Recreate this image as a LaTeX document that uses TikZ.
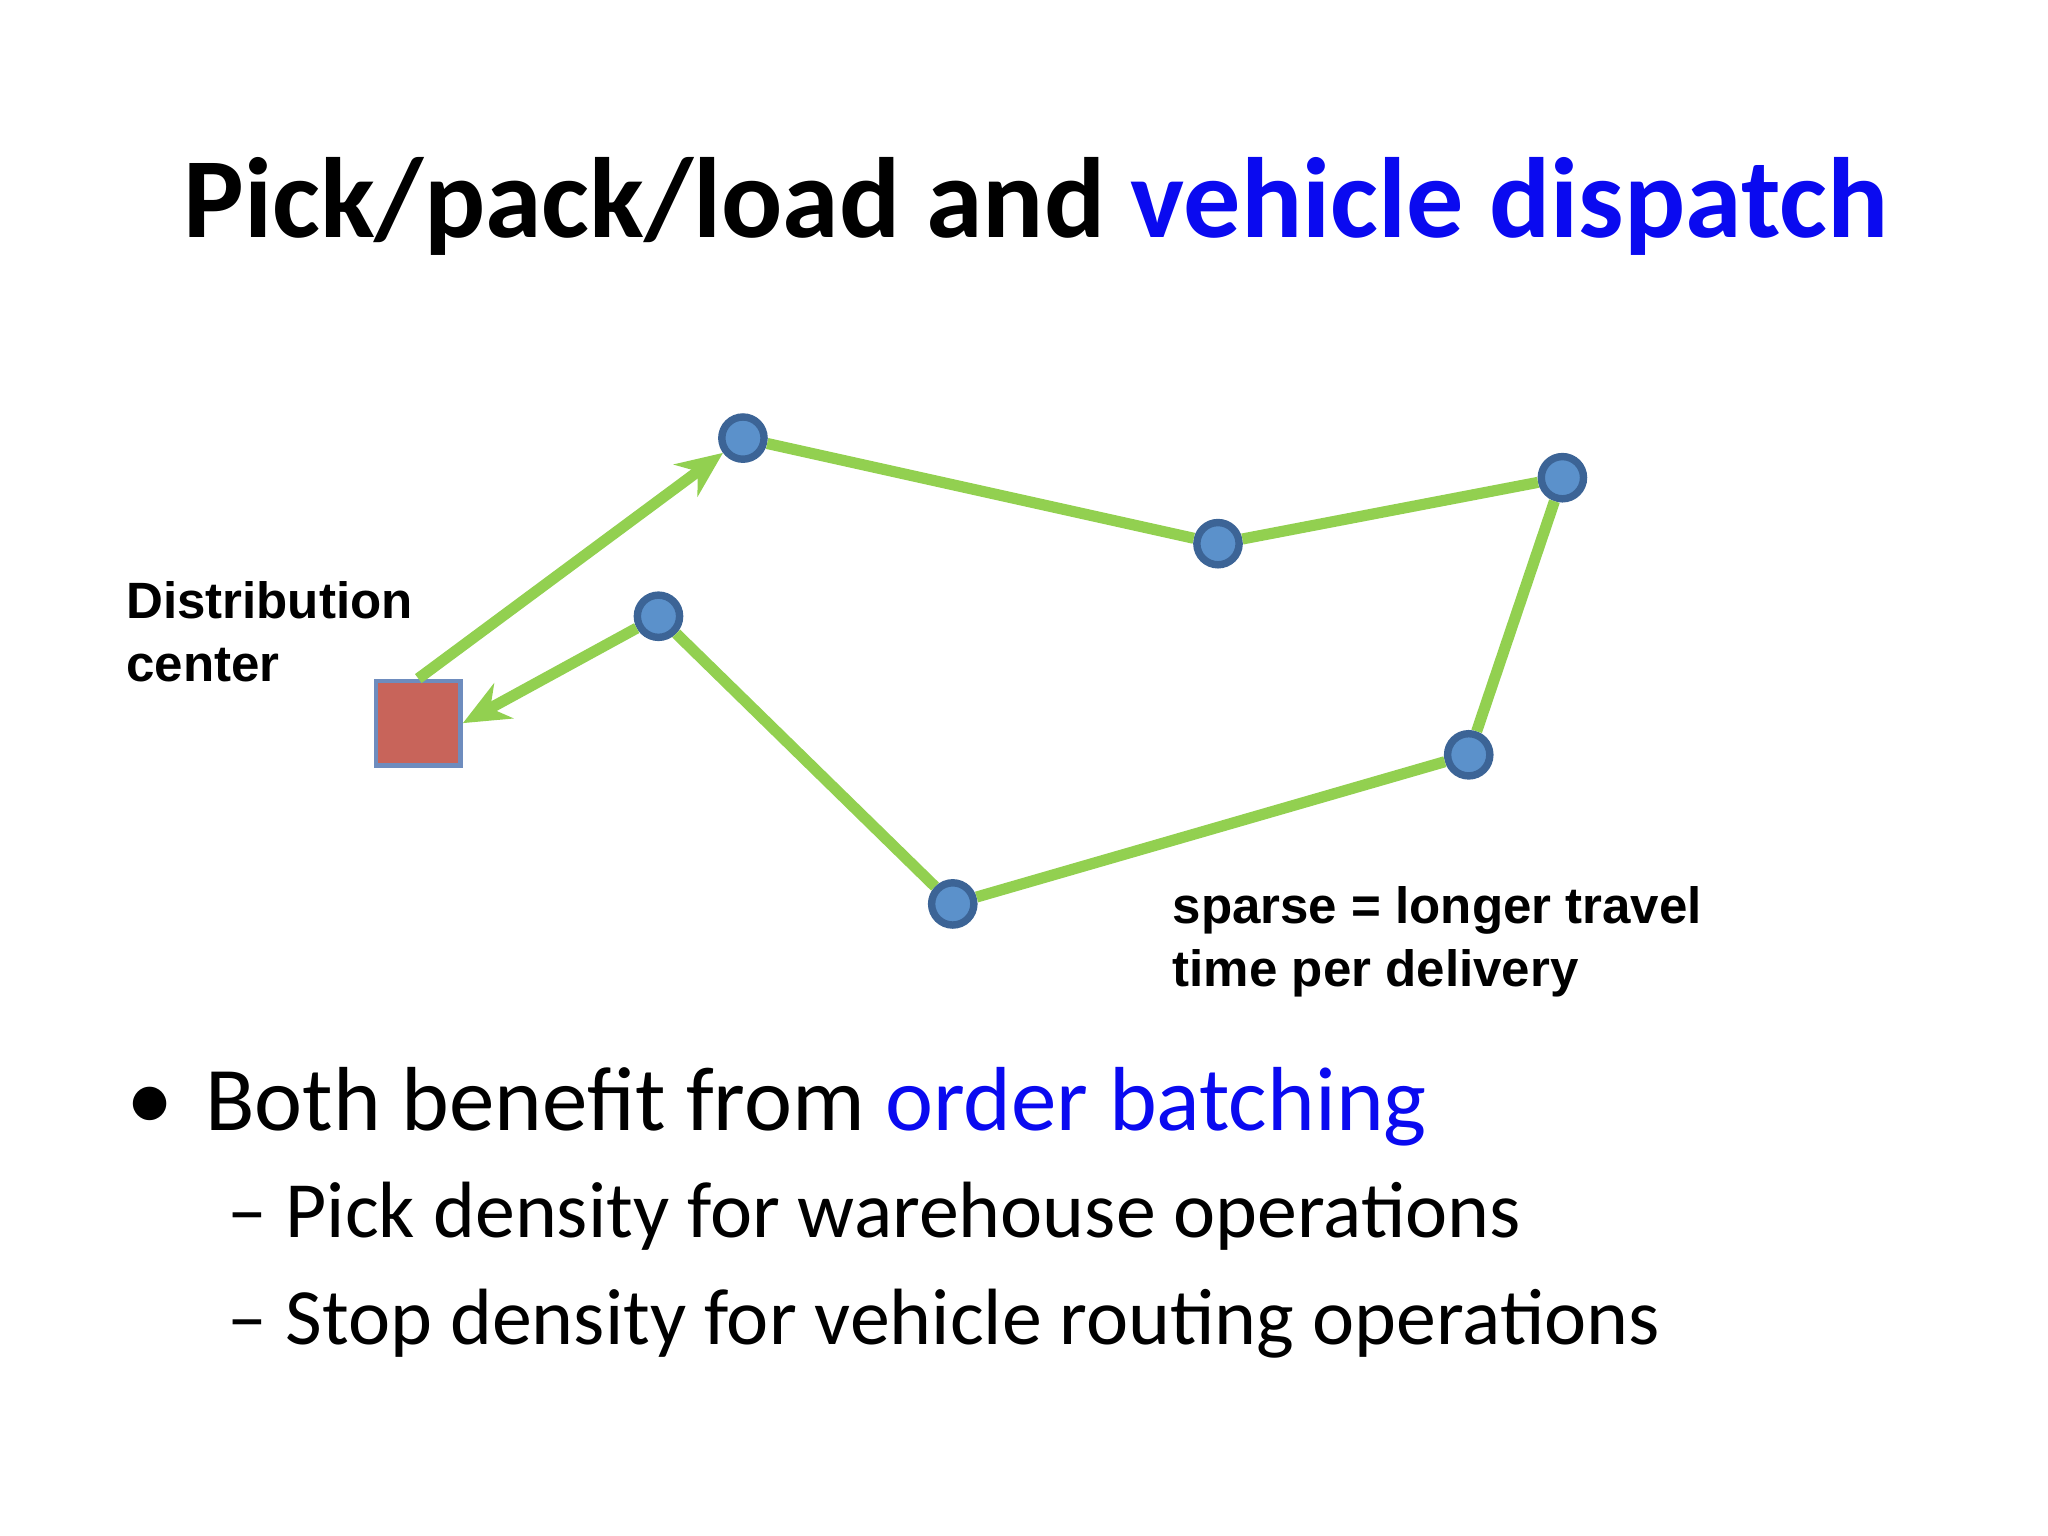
\documentclass[tikz,border=0pt]{standalone}
\usepackage{fontspec}
\setmainfont{Carlito}
\newfontfamily\arialb{Liberation Sans}[BoldFont={Liberation Sans Bold}]
\usetikzlibrary{arrows.meta}
\definecolor{route}{RGB}{146,208,80}
\definecolor{stopfill}{RGB}{91,145,203}
\definecolor{stopline}{RGB}{60,100,150}
\definecolor{dcfill}{RGB}{200,100,90}
\definecolor{dcline}{RGB}{110,140,190}
\definecolor{hl}{RGB}{10,10,240}
\begin{document}
\begin{tikzpicture}[x=0.01cm,y=-0.01cm,
  stop/.style={circle,draw=stopline,line width=1.6pt,fill=stopfill,minimum size=0.32cm,inner sep=0},
  leg/.style={draw=route,line width=2.4pt},
  arr/.style={leg,-{Stealth[length=0.35cm,width=0.3cm]}},
  lbl/.style={font=\arialb\bfseries\fontsize{11}{13.6}\selectfont,align=left,anchor=north west,inner sep=0}]
\useasboundingbox (0,0) rectangle (1552,1164);
\node[anchor=base,inner sep=0] (title) at (785,180) {\fontsize{24.6}{30}\selectfont\bfseries Pick/pack/load and \textcolor{hl}{vehicle dispatch}};
\node[draw=dcline,line width=1pt,fill=dcfill,minimum size=0.64cm,inner sep=0] (dc) at (317,548) {};
\node[stop] (a) at (563,332) {};
\node[stop] (b) at (923,412) {};
\node[stop] (c) at (1184,362) {};
\node[stop] (d) at (1113,572) {};
\node[stop] (e) at (722,685) {};
\node[stop] (f) at (499,467) {};
\draw[arr] (dc.north) -- (a);
\draw[leg] (a) -- (b) -- (c) -- (d) -- (e) -- (f);
\draw[arr] (f) -- (dc.east);
\node[lbl] (dlab) at (95,440) {Distribution\\center};
\node[lbl] (slab) at (888,671) {sparse = longer travel\\time per delivery};
\node[anchor=base west,inner sep=0,font=\fontsize{20.4}{24}\selectfont] (bul) at (95,857) {\textbullet};
\node[anchor=base west,inner sep=0,font=\fontsize{19.6}{24}\selectfont] (bt) at (155,857) {Both benefit from \textcolor{hl}{order batching}};
\node[anchor=base west,inner sep=0,font=\fontsize{17.2}{22}\selectfont] (s1) at (172,938) {– Pick density for warehouse operations};
\node[anchor=base west,inner sep=0,font=\fontsize{17.2}{22}\selectfont] (s2) at (172,1019) {– Stop density for vehicle routing operations};
\end{tikzpicture}
\end{document}
